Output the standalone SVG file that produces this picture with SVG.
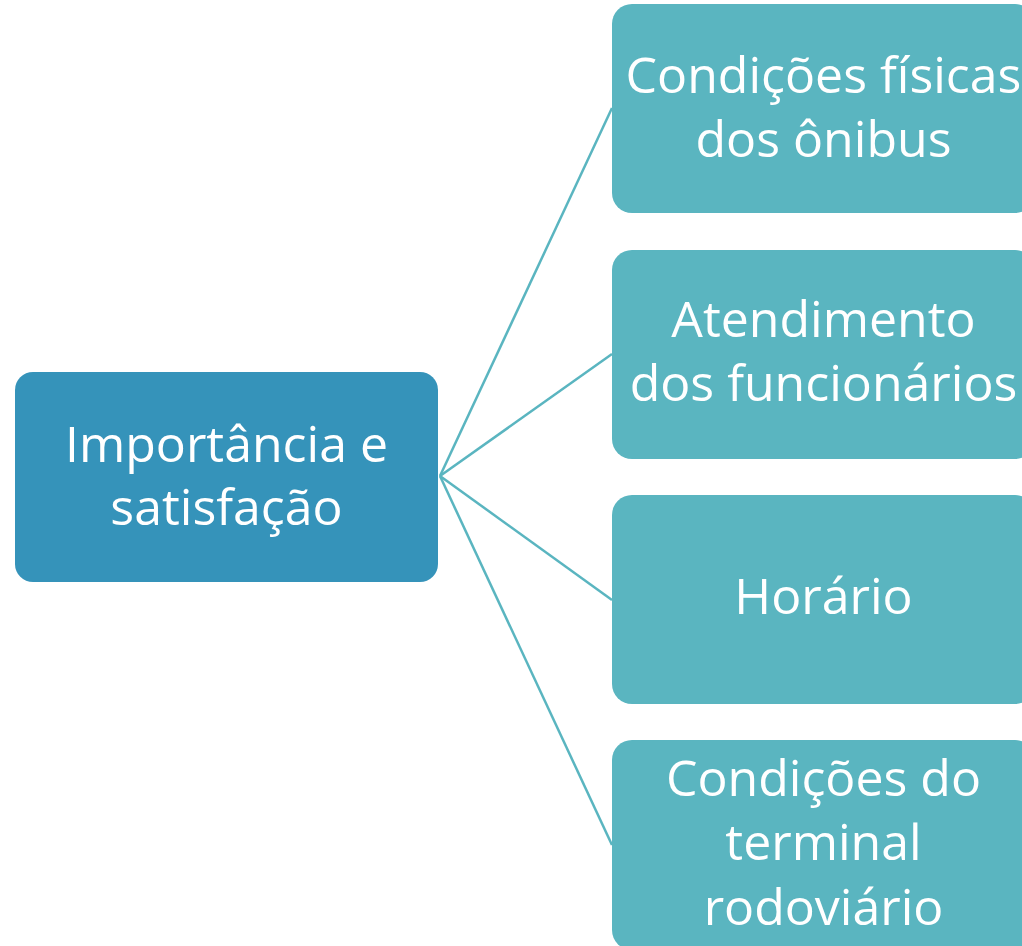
<svg xmlns="http://www.w3.org/2000/svg" width="1022" height="946" viewBox="0 0 1022 946">
<style>
.root{fill:#3593BA}
.child{fill:#5AB5C0}
.t{fill:#FFFFFF;font-family:"Open Sans","Liberation Sans",sans-serif;font-size:50px;text-anchor:middle}
.c{stroke:#5AB5C0;stroke-width:2.5;fill:none}
</style>
<rect width="1022" height="946" fill="#FFFFFF"/>
<g id="connectors">
<line class="c" x1="440" y1="476" x2="612" y2="108"/>
<line class="c" x1="440" y1="476" x2="612" y2="354"/>
<line class="c" x1="440" y1="476" x2="612" y2="600"/>
<line class="c" x1="440" y1="476" x2="612" y2="845"/>
</g>
<g id="root">
<rect class="root" x="15" y="372" width="423" height="210" rx="18"/>
<text class="t" x="226.5" y="462">Importância e</text>
<text class="t" x="226.5" y="525">satisfação</text>
</g>
<g id="child1">
<rect class="child" x="612" y="4" width="423" height="209" rx="20"/>
<text class="t" x="823.5" y="93">Condições físicas</text>
<text class="t" x="823.5" y="157">dos ônibus</text>
</g>
<g id="child2">
<rect class="child" x="612" y="250" width="423" height="209" rx="20"/>
<text class="t" x="823.5" y="337">Atendimento</text>
<text class="t" x="823.5" y="401">dos funcionários</text>
</g>
<g id="child3">
<rect class="child" x="612" y="495" width="423" height="209" rx="20"/>
<text class="t" x="823.5" y="614">Horário</text>
</g>
<g id="child4">
<rect class="child" x="612" y="740" width="423" height="210" rx="20"/>
<text class="t" x="823.5" y="796">Condições do</text>
<text class="t" x="823.5" y="860">terminal</text>
<text class="t" x="823.5" y="925">rodoviário</text>
</g>
</svg>
